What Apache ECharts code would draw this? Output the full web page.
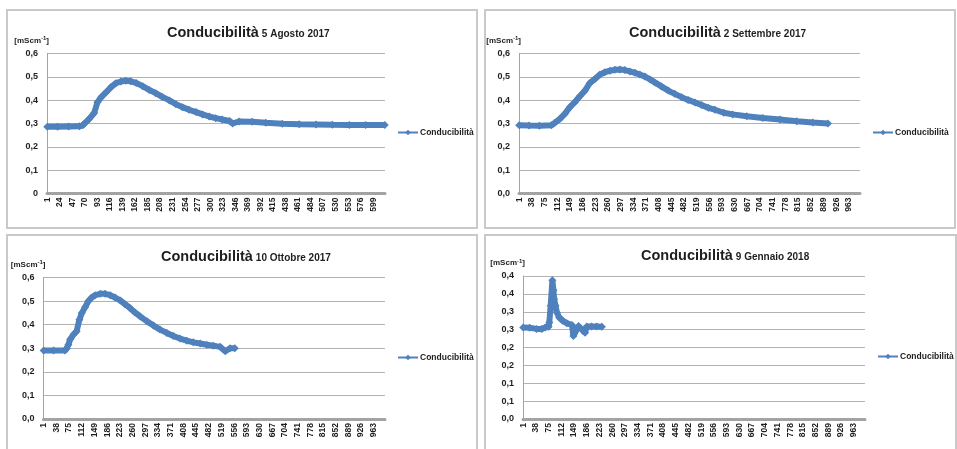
<!DOCTYPE html>
<html><head><meta charset="utf-8">
<script src="https://cdn.jsdelivr.net/npm/echarts@6/dist/echarts.min.js"></script>
<style>html,body{margin:0;padding:0;background:#fff}#c{width:957px;height:449px}</style>
</head><body><div id="c"></div>
<script>
// ---- data ----
const seriesName = 'Conducibilità';
const titleMain = 'Conducibilità';
const titleDates = ['5 Agosto 2017', '2 Settembre 2017', '10 Ottobre 2017', '9 Gennaio 2018'];
const catCounts = [620, 995, 995, 995];
const labelSteps = [23, 37, 37, 37];
const yMaxes = [0.6, 0.6, 0.6, 0.4];
const ySteps = [0.1, 0.1, 0.1, 0.05];

const augX = [1, 20, 40, 60, 66, 69, 78, 87, 93, 100, 109, 118, 127, 136, 145, 154, 164, 176, 188, 200, 212, 225, 237, 249, 261, 274, 286, 298, 310, 322, 335, 341, 353, 377, 402, 432, 463, 494, 524, 555, 585, 620];
const augY = [0.286, 0.286, 0.287, 0.288, 0.292, 0.300, 0.320, 0.345, 0.391, 0.413, 0.434, 0.456, 0.473, 0.480, 0.483, 0.481, 0.474, 0.460, 0.444, 0.430, 0.414, 0.399, 0.383, 0.370, 0.359, 0.349, 0.339, 0.330, 0.323, 0.317, 0.311, 0.300, 0.309, 0.307, 0.303, 0.299, 0.297, 0.296, 0.295, 0.294, 0.294, 0.294];

const sepX = [1, 30, 60, 95, 105, 120, 134, 149, 163, 178, 193, 207, 222, 236, 251, 266, 280, 295, 309, 324, 339, 353, 368, 383, 397, 416, 436, 455, 475, 494, 514, 533, 553, 572, 598, 624, 665, 712, 762, 811, 858, 902];
const sepY = [0.292, 0.291, 0.290, 0.292, 0.303, 0.320, 0.341, 0.370, 0.391, 0.417, 0.441, 0.473, 0.491, 0.509, 0.520, 0.526, 0.530, 0.531, 0.529, 0.523, 0.517, 0.510, 0.501, 0.489, 0.476, 0.459, 0.441, 0.427, 0.413, 0.401, 0.390, 0.379, 0.367, 0.359, 0.346, 0.339, 0.331, 0.324, 0.317, 0.310, 0.304, 0.300];

const octX = [1, 30, 63, 68, 73, 78, 88, 97, 105, 112, 122, 131, 141, 151, 166, 180, 195, 209, 224, 238, 253, 267, 282, 302, 321, 340, 360, 379, 398, 418, 437, 457, 476, 495, 515, 530, 544, 558];
const octY = [0.290, 0.290, 0.290, 0.299, 0.315, 0.337, 0.358, 0.372, 0.421, 0.449, 0.475, 0.499, 0.515, 0.525, 0.531, 0.531, 0.525, 0.515, 0.503, 0.487, 0.470, 0.452, 0.435, 0.414, 0.396, 0.379, 0.365, 0.352, 0.341, 0.332, 0.325, 0.320, 0.315, 0.311, 0.306, 0.287, 0.300, 0.300];

const janX = [1, 20, 40, 55, 65, 75, 77, 81, 86, 89, 91, 95, 99, 106, 116, 128, 143, 147, 162, 181, 186, 200, 215, 230];
const janY = [0.256, 0.255, 0.252, 0.252, 0.256, 0.258, 0.270, 0.317, 0.388, 0.360, 0.336, 0.317, 0.298, 0.284, 0.275, 0.268, 0.263, 0.232, 0.260, 0.241, 0.259, 0.259, 0.259, 0.258];

const allX = [augX, sepX, octX, janX];
const allY = [augY, sepY, octY, janY];

// ---- layout ----
const grids = [
  {left: 47, top: 53.5, width: 338, height: 140},
  {left: 519, top: 53.5, width: 341, height: 140},
  {left: 43.5, top: 277.5, width: 341.5, height: 141.5},
  {left: 523, top: 276, width: 342, height: 143}
];
const boxes = [
  {x: 7, y: 10, w: 470, h: 218},
  {x: 485, y: 10, w: 470, h: 218},
  {x: 7, y: 235, w: 470, h: 220},
  {x: 485, y: 235, w: 471, h: 220}
];
const titlePos = [{l: 162, t: 18}, {l: 624, t: 18}, {l: 156, t: 242}, {l: 636, t: 241}];
const legendPos = [{l: 397, t: 128}, {l: 872, t: 128}, {l: 397, t: 353}, {l: 877, t: 352}];

const FONT = "'Liberation Sans', Arial, sans-serif";
const TXT = '#1e1e1e';
const BLUE = '#4F81BD';

function cats(n) { const a = []; for (let i = 1; i <= n; i++) a.push(String(i)); return a; }
function fmt(panel) {
  return function (v) {
    if (panel === 0 && Math.abs(v) < 1e-9) return '0';
    const r = Math.round(v * 10 + 1e-6) / 10;
    return r.toFixed(1).replace('.', ',');
  };
}

const option = {
  animation: false,
  backgroundColor: '#ffffff',
  graphic: boxes.map(b => ({
    type: 'rect', silent: true, z: -1,
    shape: {x: b.x, y: b.y, width: b.w, height: b.h},
    style: {fill: 'none', stroke: '#c9c9c9', lineWidth: 2}
  })),
  title: titleDates.map((d, i) => ({
    left: titlePos[i].l, top: titlePos[i].t,
    text: '{a|' + titleMain + '}{b|' + d + '}',
    textStyle: {
      rich: {
        a: {fontFamily: FONT, fontSize: 14.5, fontWeight: 'bold', color: TXT, verticalAlign: 'bottom', lineHeight: 17},
        b: {fontFamily: FONT, fontSize: 10, fontWeight: 'bold', color: TXT, padding: [0, 0, 1, 3], verticalAlign: 'bottom', lineHeight: 17}
      }
    }
  })),
  legend: titleDates.map((d, i) => ({
    left: legendPos[i].l, top: legendPos[i].t,
    data: [seriesName], orient: 'vertical',
    itemWidth: 20, itemHeight: 7, itemGap: 2, padding: 0,
    selectedMode: false,
    textStyle: {fontFamily: FONT, fontSize: 8.5, fontWeight: 'bold', color: TXT, padding: [0, 0, 0, -3]}
  })),
  grid: grids.map(g => Object.assign({containLabel: false}, g)),
  xAxis: catCounts.map((n, i) => ({
    type: 'category', gridIndex: i, data: cats(n), boundaryGap: true,
    axisLine: {lineStyle: {color: '#a3a3a3', width: 3}},
    axisTick: {show: false},
    splitLine: {show: false},
    axisLabel: {
      interval: labelSteps[i] - 1, rotate: 90, margin: 4,
      fontFamily: FONT, fontSize: 8.5, fontWeight: 'bold', color: TXT
    }
  })),
  yAxis: yMaxes.map((m, i) => ({
    type: 'value', gridIndex: i, min: 0, max: m, interval: ySteps[i],
    name: '[mScm{sup|-1}]', nameLocation: 'end', nameGap: 8,
    nameTextStyle: {
      fontFamily: FONT, fontSize: 8, fontWeight: 'bold', color: TXT, align: 'right', padding: [0, -2, 0, 0],
      rich: {sup: {fontFamily: FONT, fontSize: 6, fontWeight: 'bold', color: TXT, verticalAlign: 'top', padding: [0, 0, 4, 0]}}
    },
    axisLine: {show: true, lineStyle: {color: '#a3a3a3', width: 1}},
    axisTick: {show: false},
    splitLine: {lineStyle: {color: '#b3b3b3', width: 1}},
    axisLabel: {formatter: fmt(i), margin: 9, fontFamily: FONT, fontSize: 9, fontWeight: 'bold', color: TXT}
  })),
  series: allX.map((xs, i) => ({
    name: seriesName, type: 'line', xAxisIndex: i, yAxisIndex: i,
    data: xs.map((x, k) => [String(x), allY[i][k]]),
    symbol: 'diamond', symbolSize: 8, showAllSymbol: true,
    itemStyle: {color: BLUE},
    lineStyle: {color: BLUE, width: 6},
    emphasis: {disabled: true}
  }))
};

const chart = echarts.init(document.getElementById('c'), null, {renderer: 'canvas'});
chart.setOption(option);
</script>
</body></html>
